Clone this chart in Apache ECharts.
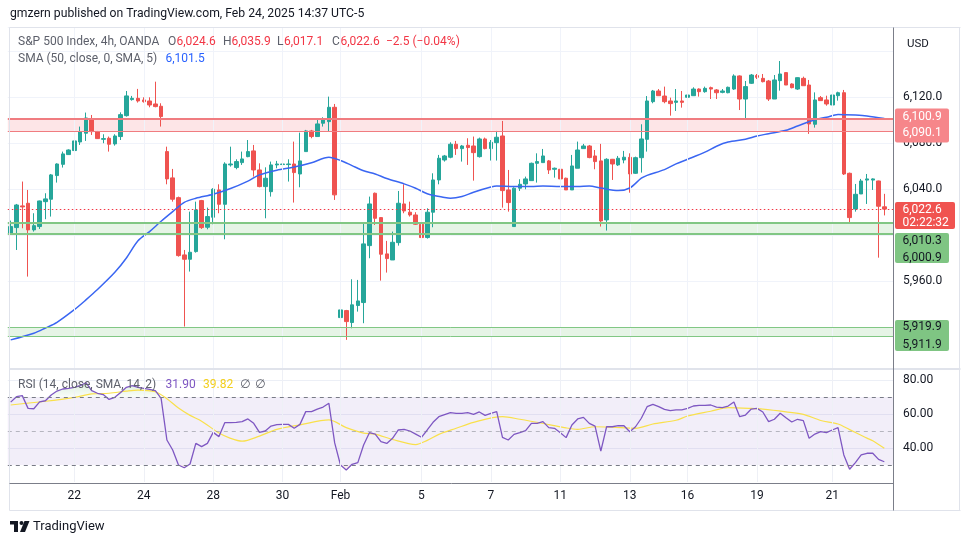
<!DOCTYPE html>
<html><head><meta charset="utf-8">
<script src="https://cdn.jsdelivr.net/npm/echarts@6/dist/echarts.min.js"></script>
<style>html,body{margin:0;padding:0;background:#fff}#c{width:970px;height:545px}</style>
</head><body><div id="c"></div><script>
const FONT = 'Roboto, "DejaVu Sans", sans-serif';

// ---- data (4h candles, 21 Jan - 24 Feb 2025) ----
const opens = [6001.0,6006.5,6025.4,6027.7,6004.5,6007.4,6029.1,6031.2,6051.8,6061.6,
6070.1,6073.6,6081.1,6088.7,6101.1,6090.1,6083.4,6084.3,6079.4,6085.8,
6104.0,6118.0,6119.1,6117.7,6116.8,6114.2,6112.2,6072.7,6049.8,6032.6,
5982.7,5978.9,5985.6,6030.0,6006.8,6015.5,6039.3,6026.8,6061.1,6058.8,
6063.1,6068.3,6073.3,6056.7,6042.2,6037.8,6061.1,6061.4,6061.4,6061.9,
6053.2,6072.7,6090.7,6085.8,6097.4,6098.8,6111.3,5928.1,5934.2,5923.8,
5938.6,5941.2,5990.8,6036.4,6015.2,5983.6,5978.3,5993.4,6027.1,6019.9,
6017.5,6009.4,5997.8,6019.9,6048.0,6065.4,6067.8,6079.1,6075.3,6078.2,
6077.6,6068.3,6083.7,6075.3,6080.5,6086.3,6039.3,6007.4,6040.8,6044.5,
6047.4,6062.5,6063.1,6064.6,6057.3,6057.3,6049.5,6039.3,6058.2,6075.3,
6077.6,6068.9,6064.6,6013.2,6066.0,6061.1,6065.4,6067.7,6053.8,6067.4,
6083.4,6116.2,6125.5,6121.1,6116.8,6115.6,6116.8,6120.0,6121.4,6127.2,
6124.9,6128.4,6126.4,6124.3,6124.0,6127.2,6138.6,6118.5,6132.2,6138.9,
6136.5,6134.2,6118.5,6134.5,6141.5,6131.6,6127.2,6136.5,6130.7,6096.5,
6119.7,6117.7,6113.3,6121.4,6124.0,6053.8,6022.7,6035.8,6047.9,6047.9,
6047.1,6024.6];
const highs = [6012.6,6027.1,6046.6,6039.3,6019.0,6030.0,6036.4,6053.2,6062.5,6072.7,
6074.7,6085.2,6094.5,6106.7,6104.6,6090.7,6087.8,6085.8,6087.8,6106.9,
6125.5,6121.2,6127.3,6120.0,6120.0,6133.6,6114.8,6077.0,6057.6,6033.5,
5987.0,6020.4,6029.1,6030.6,6023.9,6040.8,6044.2,6063.4,6077.0,6066.0,
6072.7,6082.8,6078.5,6062.5,6059.0,6064.0,6064.6,6073.6,6066.0,6081.4,
6089.2,6091.6,6091.6,6100.8,6102.6,6120.6,6114.2,5948.7,5934.8,5961.5,
5960.9,6010.3,6033.5,6037.0,6015.5,5994.9,6003.0,6038.4,6044.2,6029.1,
6019.9,6010.3,6023.3,6053.8,6069.8,6069.8,6080.8,6082.0,6078.5,6084.3,
6085.8,6084.9,6084.9,6082.8,6090.7,6099.4,6056.7,6041.6,6048.6,6050.9,
6063.1,6071.2,6075.0,6065.4,6058.8,6057.9,6050.0,6069.8,6081.4,6079.4,
6078.5,6074.1,6079.4,6066.9,6066.3,6068.9,6073.3,6071.2,6068.3,6096.5,
6121.1,6126.4,6127.2,6129.3,6119.7,6127.2,6125.5,6122.9,6128.7,6127.8,
6129.3,6129.3,6127.2,6127.2,6129.3,6140.0,6139.1,6134.2,6140.3,6140.3,
6140.3,6135.1,6139.4,6151.6,6141.7,6132.2,6137.4,6138.0,6135.1,6124.3,
6121.1,6121.4,6122.6,6124.9,6126.4,6054.4,6044.5,6048.9,6053.2,6049.4,
6047.4,6035.9];
const lows = [6000.1,5987.0,6005.9,5963.8,6003.0,6005.3,6013.8,6016.1,6045.7,6058.8,
6069.8,6069.8,6078.5,6082.0,6087.2,6083.7,6080.0,6072.7,6077.9,6082.8,
6103.2,6117.1,6115.4,6115.4,6111.3,6111.3,6094.5,6044.2,6029.1,5981.2,
5920.3,5968.2,5984.7,6005.3,6005.0,6009.4,6019.0,5996.3,6059.6,6057.3,
6061.1,6067.8,6050.9,6041.6,6014.6,6033.5,6058.2,6058.2,6046.6,6028.3,
6041.6,6072.7,6084.3,6085.8,6094.5,6090.1,6030.6,5916.8,5908.7,5918.8,
5933.3,5923.2,5979.8,6008.8,5960.3,5967.3,5978.3,5990.8,6019.0,6016.1,
6008.8,5997.2,5996.9,6006.8,6044.2,6064.0,6066.9,6069.8,6064.0,6061.1,
6047.4,6067.5,6074.7,6064.9,6064.9,6023.9,6020.4,6007.4,6038.4,6039.9,
6047.4,6045.7,6063.1,6053.2,6050.0,6045.1,6039.3,6039.3,6058.2,6075.0,
6066.9,6057.3,6007.4,6003.9,6048.0,6060.2,6062.5,6036.9,6053.2,6054.4,
6072.7,6114.8,6121.4,6114.8,6104.0,6108.1,6111.0,6113.3,6121.4,6120.6,
6124.0,6118.5,6118.5,6123.5,6123.5,6126.4,6108.9,6100.2,6131.6,6135.9,
6133.0,6116.8,6118.5,6125.8,6130.7,6127.8,6126.4,6130.1,6088.1,6093.6,
6117.1,6112.7,6113.3,6117.1,6052.3,6011.1,6020.4,6035.8,6027.1,6039.3,
5980.3,6017.1];
const closes = [6007.4,6026.2,6024.5,6004.5,6008.2,6029.7,6031.5,6052.4,6061.9,6070.7,
6074.1,6082.0,6089.8,6102.0,6090.1,6084.0,6084.0,6079.1,6086.3,6104.9,
6121.2,6119.1,6116.8,6116.2,6113.3,6111.9,6103.2,6048.9,6031.2,5982.1,
5978.9,5985.0,6021.9,6006.5,6016.1,6039.9,6026.8,6061.9,6061.9,6064.0,
6066.3,6072.7,6056.7,6042.2,6049.5,6061.1,6061.9,6061.9,6061.9,6054.4,
6064.6,6090.7,6085.8,6096.8,6100.3,6111.3,6035.0,5934.8,5924.6,5939.2,
5942.6,5992.3,6027.1,6014.6,5983.3,5979.5,5993.7,6027.7,6021.0,6017.5,
6009.4,5997.8,6019.9,6048.0,6066.9,6068.9,6079.1,6075.3,6077.6,6076.2,
6071.8,6083.7,6075.3,6080.8,6085.2,6038.7,6028.3,6040.8,6044.2,6048.9,
6062.5,6064.0,6068.9,6056.7,6058.2,6048.9,6039.3,6060.2,6074.1,6077.6,
6067.5,6064.0,6012.3,6066.0,6061.9,6066.9,6067.8,6053.2,6067.4,6083.7,
6116.8,6125.5,6121.4,6116.2,6114.5,6116.8,6115.6,6122.0,6127.2,6124.9,
6127.8,6127.2,6124.0,6125.5,6128.7,6138.6,6118.5,6129.3,6139.4,6137.4,
6133.6,6118.5,6135.1,6140.3,6130.7,6128.4,6137.1,6130.1,6096.8,6117.7,
6117.1,6114.2,6122.0,6124.0,6053.2,6015.2,6035.5,6047.1,6048.9,6048.9,
6025.1,6022.6];

// SMA(50) read at bar positions
const smaIdx = [0,4,6,8,11,13,15,18,20,22,24,26,28,30,32,35,38,41,43,46,49,52,55,57,59,61,63,65,68,70,72,75,76,78,80,83,84,87,90,92,95,98,100,102,105,107,109,110,113,115,117,120,122,124,127,129,131,134,136,139,141,143,146,148,151];
const smaVal = [5908.7,5914.5,5919,5924,5935,5943.5,5952.5,5967.5,5980,5995,6003,6012,6020.4,6028.5,6032,6035.5,6040.5,6047,6052.4,6056.5,6059.2,6063,6067.8,6065,6060.5,6056,6053.2,6049.2,6044.6,6040.8,6036,6032.7,6032,6033.5,6037.3,6041.8,6042.7,6042.2,6042.2,6042.8,6042.2,6042.2,6042.8,6041,6038.7,6041,6049.5,6052,6057,6062,6066,6072.2,6077.4,6081,6083.5,6086.3,6088.3,6091.3,6095,6100.5,6102.6,6105,6104.5,6103.8,6101.5];

// RSI(14)
const rsi = [67,70.2,70.8,63.3,63.1,67.1,67.8,71.2,73.5,74.7,
75.1,75.7,76.7,78.4,73.7,72.2,71.4,68.6,69.8,72.7,
75.7,76.7,75.7,75.1,74.5,73.7,69.2,44.7,38.8,30,
28.4,30.6,42.7,40.8,42.7,49.2,46.7,54.9,54.9,55.1,
55.5,57.1,54.5,49.2,50,52.9,53.7,53.9,53.9,51.6,
53.9,61.4,61.4,62.9,64.1,66.3,43,30,27.1,30.4,
31.4,41.8,49,48.2,43.7,42.7,45.7,50.6,51,50,
48.2,46.3,50.6,55.1,58.4,59.6,60.8,60.4,60.4,60.8,
59.8,61.2,59.2,60.4,61.4,46.3,44.7,48,49,50.2,
54.5,54.5,55.5,52,51.6,49,46.1,53.5,57.1,58,
54.5,52.9,38.2,52.5,52.5,53.1,53.1,49.6,52.5,57.5,
64.3,65.7,64.3,62.7,62,62.4,62.4,63.3,64.7,65.1,
65.1,65.3,64.1,63.7,64.7,67.1,58.4,59.4,62.9,63.3,
61.2,55.5,56.9,60.4,57.8,55.3,56.9,56.1,45.7,48.2,
49.6,49,50.6,52,35.9,27.5,31.4,35.9,36.9,36.9,
33.3,31.9];
// RSI-based SMA(14) read at bar positions
const rsiSmaIdx = [0,6,11,14,17,20,22,25,27,29,31,33,36,38,40,43,46,50,55,58,61,63,66,70,72,74,77,80,85,88,93,96,98,101,104,108,111,115,117,121,124,128,130,134,137,140,143,145,148,149,151];
const rsiSmaVal = [65.3,67.5,69.8,71.8,72.2,73.5,74.1,73.1,69,63.5,59.2,55.8,48.8,45.7,44,47,51,53.6,56.5,52,48.8,48.2,45,42,44.5,48,51.6,55.1,58.4,56.9,53.8,51.8,51,52.5,52.2,51.6,54.1,56.3,58.8,61.6,63.7,63.3,62.9,61.3,59.8,56.2,54.1,50.8,45.8,44.3,39.82];

// time axis
const barCount = 153;
const dayLabelIdx = [11,23,35,47,57,71,83,95,107,117,129,142];
const dayLabels = ['22','24','28','30','Feb','5','7','11','13','16','19','21'];

// zones and levels
const zoneRed = [6090.1, 6100.9];
const zoneGreen1 = [6000.9, 6010.3];
const zoneGreen2 = [5911.9, 5919.9];
const lastPrice = 6022.6;
const countdown = '02:22:32';
const priceTicksShown = [5960, 6040, 6080, 6120];
const rsiTicksShown = [40, 60, 80];

// ---- chart ----
const categories = Array.from({length: barCount}, () => '');
dayLabelIdx.forEach((k, j) => { categories[k] = dayLabels[j]; });
const labelSet = new Set(dayLabelIdx);
const candleData = opens.map((o, i) => [o, closes[i], lows[i], highs[i]]);
const smaData = smaIdx.map((k, j) => [k, smaVal[j]]);
const rsiSmaData = rsiSmaIdx.map((k, j) => [k, rsiSmaVal[j]]);
const fmt = v => v.toLocaleString('en-US', {minimumFractionDigits: 1, maximumFractionDigits: 1});

const chart = echarts.init(document.getElementById('c'));
const gridL = 7.8, gridR = 77;
const vLines = dayLabelIdx.map(k => ({xAxis: k}));
const GREEN = '#81c784', RED = '#f07c80';

const option = {
  animation: false,
  backgroundColor: '#ffffff',
  textStyle: {fontFamily: FONT},
  grid: [
    {left: gridL, right: gridR, top: 27, height: 345.8},
    {left: gridL, right: gridR, top: 369, height: 113}
  ],
  xAxis: [
    {type: 'category', gridIndex: 0, data: categories, boundaryGap: true,
     axisLine: {show: false}, axisTick: {show: false}, axisLabel: {show: false}, splitLine: {show: false}},
    {type: 'category', gridIndex: 1, data: categories, boundaryGap: true,
     axisLine: {show: false}, axisTick: {show: false}, splitLine: {show: false},
     axisLabel: {show: true, interval: (i) => labelSet.has(i), color: '#131722', fontSize: 12, margin: 8, fontFamily: FONT}}
  ],
  yAxis: [
    {type: 'value', gridIndex: 0, position: 'right', min: 5880, max: 6181.24, interval: 40,
     axisLine: {show: false}, axisTick: {show: false},
     axisLabel: {margin: 10, color: '#131722', fontSize: 12, fontFamily: FONT,
       formatter: v => priceTicksShown.includes(v) ? fmt(v) : ''},
     splitLine: {show: true, showMinLine: false, lineStyle: {color: '#f0f3fa', width: 1}}},
    {type: 'value', gridIndex: 1, position: 'right', min: 20, max: 86.47, interval: 20,
     axisLine: {show: false}, axisTick: {show: false},
     axisLabel: {margin: 10, color: '#131722', fontSize: 12, fontFamily: FONT,
       formatter: v => rsiTicksShown.includes(v) ? v.toFixed(2) : ''},
     splitLine: {show: true, showMinLine: false, showMaxLine: false, lineStyle: {color: '#eceff6', width: 1}}}
  ],
  series: [
    // background helper for main pane: vertical grid, zones
    {type: 'line', xAxisIndex: 0, yAxisIndex: 0, data: closes, z: 1, silent: true,
     symbol: 'none', lineStyle: {opacity: 0},
     markLine: {silent: true, symbol: 'none', label: {show: false}, animation: false,
       data: vLines.map(d => Object.assign({lineStyle: {color: '#f0f3fa', width: 1, type: 'solid'}}, d)).concat([
         {yAxis: zoneRed[1], lineStyle: {color: RED, width: 2, type: 'solid'}},
         {yAxis: zoneRed[0], lineStyle: {color: RED, width: 1.2, type: 'solid'}},
         {yAxis: zoneGreen1[1], lineStyle: {color: GREEN, width: 2, type: 'solid'}},
         {yAxis: zoneGreen1[0], lineStyle: {color: GREEN, width: 2, type: 'solid'}},
         {yAxis: zoneGreen2[1], lineStyle: {color: GREEN, width: 1, type: 'solid'}},
         {yAxis: zoneGreen2[0], lineStyle: {color: GREEN, width: 1, type: 'solid'}},
         {yAxis: lastPrice, lineStyle: {color: '#f23645', width: 1, type: [1.5, 2.5]}}
       ])},
     markArea: {silent: true, data: [
       [{yAxis: zoneRed[0], itemStyle: {color: 'rgba(242,54,69,0.13)'}}, {yAxis: zoneRed[1]}],
       [{yAxis: zoneGreen1[0], itemStyle: {color: 'rgba(76,175,80,0.14)'}}, {yAxis: zoneGreen1[1]}],
       [{yAxis: zoneGreen2[0], itemStyle: {color: 'rgba(76,175,80,0.14)'}}, {yAxis: zoneGreen2[1]}]
     ]}},
    {type: 'candlestick', name: 'S&P 500', xAxisIndex: 0, yAxisIndex: 0, data: candleData, z: 3,
     barWidth: 4,
     itemStyle: {color: '#26a69a', color0: '#ef5350', borderColor: '#26a69a', borderColor0: '#ef5350', borderWidth: 1}},
    {type: 'line', name: 'SMA 50', xAxisIndex: 0, yAxisIndex: 0, data: smaData, z: 4,
     symbol: 'none', smooth: 0.3, lineStyle: {color: '#3a66f2', width: 1.5}},
    // RSI pane helper: band, dashed levels, vertical grid
    {type: 'line', xAxisIndex: 1, yAxisIndex: 1, data: rsi, z: 1, silent: true,
     symbol: 'none', lineStyle: {opacity: 0},
     markArea: {silent: true, data: [[{yAxis: 30, itemStyle: {color: 'rgba(126,87,194,0.1)'}}, {yAxis: 70}]]},
     markLine: {silent: true, symbol: 'none', label: {show: false},
       data: vLines.map(d => Object.assign({lineStyle: {color: '#eef0f6', width: 1, type: 'solid'}}, d)).concat([
         {yAxis: 70, lineStyle: {color: '#787b86', width: 1, type: [4, 4]}},
         {yAxis: 50, lineStyle: {color: 'rgba(120,123,134,0.5)', width: 1, type: [4, 4]}},
         {yAxis: 30, lineStyle: {color: '#787b86', width: 1, type: [4, 4]}}
       ])}},
    // overbought / oversold fills
    {type: 'line', xAxisIndex: 1, yAxisIndex: 1, stack: 'ob', data: rsi.map(() => 70), symbol: 'none', lineStyle: {opacity: 0}, silent: true, z: 2},
    {type: 'line', xAxisIndex: 1, yAxisIndex: 1, stack: 'ob', data: rsi.map(v => Math.max(v, 70) - 70), symbol: 'none', lineStyle: {opacity: 0}, silent: true, z: 2,
     areaStyle: {color: new echarts.graphic.LinearGradient(0, 0, 0, 1, [{offset: 0, color: 'rgba(76,175,80,0.28)'}, {offset: 1, color: 'rgba(76,175,80,0.05)'}])}},
    {type: 'line', xAxisIndex: 1, yAxisIndex: 1, stack: 'os', data: rsi.map(v => Math.min(v, 30)), symbol: 'none', lineStyle: {opacity: 0}, silent: true, z: 2},
    {type: 'line', xAxisIndex: 1, yAxisIndex: 1, stack: 'os', data: rsi.map(v => 30 - Math.min(v, 30)), symbol: 'none', lineStyle: {opacity: 0}, silent: true, z: 2,
     areaStyle: {color: 'rgba(242,54,69,0.12)'}},
    {type: 'line', name: 'RSI', xAxisIndex: 1, yAxisIndex: 1, data: rsi, z: 4,
     symbol: 'none', lineStyle: {color: '#7e57c2', width: 1.3}},
    {type: 'line', name: 'RSI MA', xAxisIndex: 1, yAxisIndex: 1, data: rsiSmaData, z: 3,
     symbol: 'none', smooth: 0.3, lineStyle: {color: '#f9e04b', width: 1.2}}
  ]
};
chart.setOption(option);

// ---- overlay: frame, legends, price boxes ----
const yOf = v => chart.convertToPixel({yAxisIndex: 0}, v);
const g = [];
const line = (x1, y1, x2, y2, c, w) => g.push({type: 'line', z: 90, silent: true, shape: {x1, y1, x2, y2}, style: {stroke: c, lineWidth: w || 1}});
const text = (x, y, t, c, size, extra) => g.push(Object.assign({type: 'text', z: 101, silent: true, x, y,
  style: {text: t, fill: c, font: (size || 12) + 'px ' + FONT, textVerticalAlign: 'middle', verticalAlign: 'middle', textAlign: 'left', align: 'left'}}, extra || {}));

line(9.5, 27.5, 960.5, 27.5, '#e0e3eb');
line(9.5, 27.5, 9.5, 510.5, '#e0e3eb');
line(959.5, 27.5, 959.5, 510.5, '#e0e3eb');
line(9.5, 510.5, 960.5, 510.5, '#e0e3eb');
line(9.5, 369, 960.5, 369, '#e0e3eb', 2);
line(893.5, 27.5, 893.5, 510.5, '#7b7e89');
line(9.5, 483.5, 893.5, 483.5, '#7b7e89');

text(10, 14, 'gmzern published on TradingView.com, Feb 24, 2025 14:37 UTC-5', '#131722', 12.2);
text(907, 44, 'USD', '#131722', 11.5);

const LG = '#5d606b', LR = '#f23645', LS = 12;
text(18, 42, 'S&P 500 Index, 4h, OANDA', LG, LS);
text(168, 42, 'O', LG, LS); text(176.5, 42, fmt(opens[151]), LR, LS);
text(223, 42, 'H', LG, LS); text(231.5, 42, fmt(highs[151]), LR, LS);
text(277, 42, 'L', LG, LS); text(284, 42, fmt(lows[151]), LR, LS);
text(332, 42, 'C', LG, LS); text(340.5, 42, fmt(closes[151]), LR, LS);
text(386, 42, '\u22122.5 (\u22120.04%)', LR, LS);
text(18, 59, 'SMA (50, close, 0, SMA, 5)', LG, LS);
text(165.5, 59, fmt(smaVal[smaVal.length - 1]), '#2962ff', LS);
text(18, 385, 'RSI (14, close, SMA, 14, 2)', LG, LS);
text(165.5, 385, rsi[rsi.length - 1].toFixed(2), '#7e57c2', LS);
text(203, 385, rsiSmaVal[rsiSmaVal.length - 1].toFixed(2), '#f2cf1d', LS);
text(240, 385, '\u2205', LG, LS);
text(255, 385, '\u2205', LG, LS);

function priceBox(top, h, w, bg, fg, lines, offs) {
  g.push({type: 'rect', z: 100, silent: true, shape: {x: 895, y: top, width: w, height: h, r: 2}, style: {fill: bg}});
  lines.forEach((t, k) => text(902.5, top + offs[k], t, fg, 12));
}
const midRed = (zoneRed[0] + zoneRed[1]) / 2;
const redTop = yOf(midRed) - 17;
priceBox(redTop, 34, 54, '#f6868a', '#ffffff', [fmt(zoneRed[1]), fmt(zoneRed[0])], [8.5, 25]);
const lastTop = yOf(lastPrice) - 7;
priceBox(lastTop, 27, 60, '#f05350', '#ffffff', [fmt(lastPrice), countdown], [8, 21]);
const g1Top = Math.max(yOf((zoneGreen1[0] + zoneGreen1[1]) / 2) - 15, lastTop + 31);
priceBox(g1Top, 30, 54, '#7fc583', '#131722', [fmt(zoneGreen1[1]), fmt(zoneGreen1[0])], [8, 24.5]);
const g2Top = yOf(zoneGreen2[1]) - 7;
priceBox(g2Top, 31, 54, '#7fc583', '#131722', [fmt(zoneGreen2[1]), fmt(zoneGreen2[0])], [7.5, 25]);

// TradingView logo
g.push({type: 'rect', z: 100, silent: true, shape: {x: 10, y: 521, width: 8, height: 3.5}, style: {fill: '#131722'}});
g.push({type: 'rect', z: 100, silent: true, shape: {x: 14, y: 521, width: 4, height: 11}, style: {fill: '#131722'}});
g.push({type: 'circle', z: 100, silent: true, shape: {cx: 21.5, cy: 523, r: 2}, style: {fill: '#131722'}});
g.push({type: 'polygon', z: 100, silent: true, shape: {points: [[24.5, 521], [29.5, 521], [25, 532], [20, 532]]}, style: {fill: '#131722'}});
text(33, 527, 'TradingView', '#131722', 13);

chart.setOption({graphic: g});
</script></body></html>
